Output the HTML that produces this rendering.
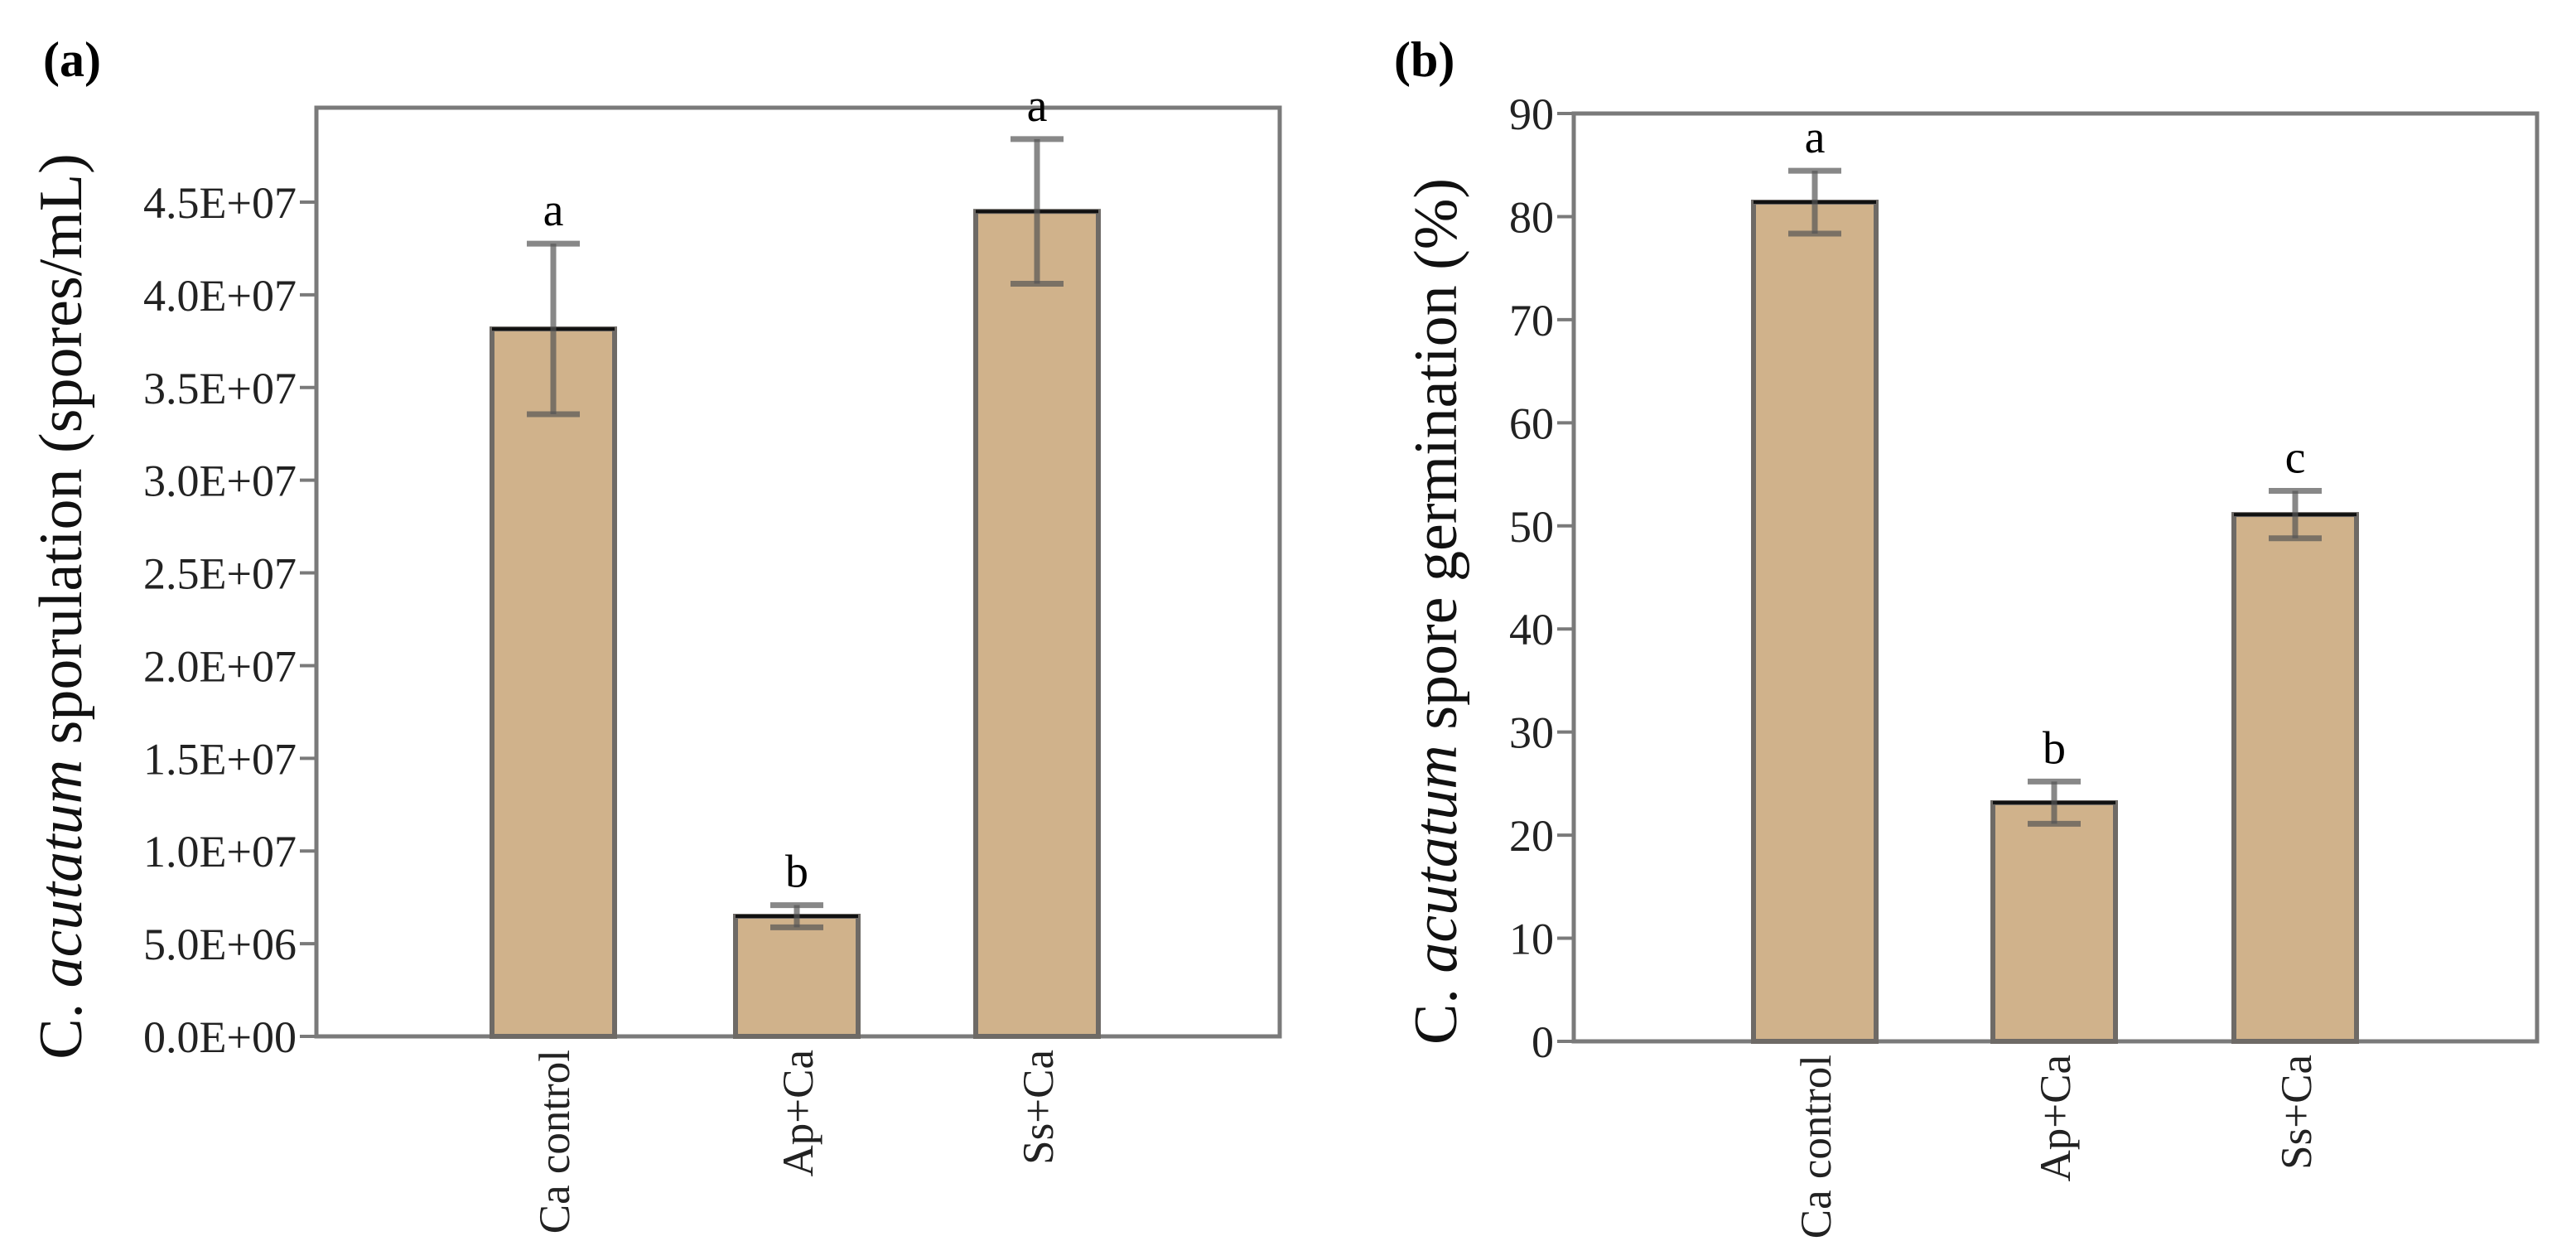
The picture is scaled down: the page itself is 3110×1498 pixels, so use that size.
<!DOCTYPE html>
<html><head><meta charset="utf-8">
<style>
html,body{margin:0;padding:0;background:#fff;}
svg{display:block;font-family:"Liberation Serif",serif;}
</style></head>
<body>
<svg id="fig" width="3110" height="1498" viewBox="0 0 3110 1498" xmlns="http://www.w3.org/2000/svg"></svg>
<script>
const categories = ["Ca control","Ap+Ca","Ss+Ca"];
const sporMeans = [3.816e7, 6.48e6, 4.45e7];
const sporErrs = [0.46e7, 0.6e6, 0.39e7];
const sporLetters = ["a","b","a"];
const sporTicks = [0,5e6,1e7,1.5e7,2e7,2.5e7,3e7,3.5e7,4e7,4.5e7];
const sporTickLabels = ["0.0E+00","5.0E+06","1.0E+07","1.5E+07","2.0E+07","2.5E+07","3.0E+07","3.5E+07","4.0E+07","4.5E+07"];
const germMeans = [81.4, 23.15, 51.1];
const germErrs = [3.05, 2.05, 2.3];
const germLetters = ["a","b","c"];
const germTicks = [0,10,20,30,40,50,60,70,80,90];
const germTickLabels = ["0","10","20","30","40","50","60","70","80","90"];

const NS="http://www.w3.org/2000/svg";
const svg=document.getElementById('fig');
function mk(tag,attrs,parent,text){const e=document.createElementNS(NS,tag);for(const k in attrs)e.setAttribute(k,attrs[k]);if(text!==undefined)e.textContent=text;(parent||svg).appendChild(e);return e;}

function panel(cfg){
  const g=mk('g',{});
  
  
  const y=v=>cfg.bottom-(v-cfg.min)/(cfg.max-cfg.min)*(cfg.bottom-cfg.maxY);
  const cx=i=>cfg.centers[i];
  const fr=mk('rect',{x:cfg.left,y:cfg.top,width:cfg.right-cfg.left,height:cfg.bottom-cfg.top,fill:'none',stroke:'#7a7a7a','stroke-width':5},g);
  
  
  cfg.ticks.forEach((t,i)=>{
    const ty=y(t);
    const tl=mk('line',{x1:cfg.left-20,x2:cfg.left,y1:ty,y2:ty,stroke:'#7a7a7a','stroke-width':4},g);
    
    
    const tx=mk('text',{x:cfg.left-24,y:ty+19,'text-anchor':'end','font-size':54,fill:'#222'},g,cfg.tickLabels[i]);
    
    
  });
  cfg.means.forEach((m,i)=>{
    const top=y(m), bw=148;
    const r=mk('rect',{x:cx(i)-bw/2,y:top,width:bw,height:cfg.bottom-top,fill:'#d0b28b',stroke:'#6e6a66','stroke-width':6},g);
    
    
    const tl=mk('line',{x1:cx(i)-bw/2,x2:cx(i)+bw/2,y1:top,y2:top,stroke:'#111','stroke-width':4},g);
    
    
    const e=cfg.errs[i], hi=y(m+e), lo=y(m-e);
    const eg=mk('g',{stroke:'#555','stroke-width':7,'stroke-opacity':0.7},g);
    
    
    mk('line',{x1:cx(i),x2:cx(i),y1:hi,y2:lo},eg);
    mk('line',{x1:cx(i)-32,x2:cx(i)+32,y1:hi,y2:hi},eg);
    mk('line',{x1:cx(i)-32,x2:cx(i)+32,y1:lo,y2:lo},eg);
    const lt=mk('text',{x:cx(i),y:hi-22,'text-anchor':'middle','font-size':56,fill:'#000'},g,cfg.letters[i]);
    
    
    const cl=mk('text',{x:0,y:0,'text-anchor':'end','font-size':53,fill:'#222',transform:`translate(${cx(i)+19},${cfg.bottom+16}) rotate(-90)`},g,categories[i]);
    
    
  });
  const yt=mk('text',{x:0,y:0,'text-anchor':'middle','font-size':74,fill:'#111',transform:`translate(${cfg.titleX},${cfg.titleY}) rotate(-90)`},g);
  
  
  mk('tspan',{},yt,'C. ');
  mk('tspan',{'font-style':'italic'},yt,'acutatum');
  mk('tspan',{},yt,cfg.titleRest);
  const pl=mk('text',{x:cfg.labelX,y:92,'font-size':60,'font-weight':'bold',fill:'#000'},g,cfg.label);
  
  
}

panel({name:'panel-a-sporulation',left:382,right:1545,top:130,bottom:1251,min:0,max:4.5e7,maxY:244,
  centers:[668,962,1252],means:sporMeans,errs:sporErrs,letters:sporLetters,ticks:sporTicks,tickLabels:sporTickLabels,
  titleX:98,titleY:732,titleRest:' sporulation (spores/mL)',label:'(a)',labelX:52});
panel({name:'panel-b-germination',left:1900,right:3063,top:137,bottom:1257,min:0,max:90,maxY:137,
  centers:[2191,2480,2771],means:germMeans,errs:germErrs,letters:germLetters,ticks:germTicks,tickLabels:germTickLabels,
  titleX:1758,titleY:738,titleRest:' spore germination (%)',label:'(b)',labelX:1683});
</script>
</body></html>
